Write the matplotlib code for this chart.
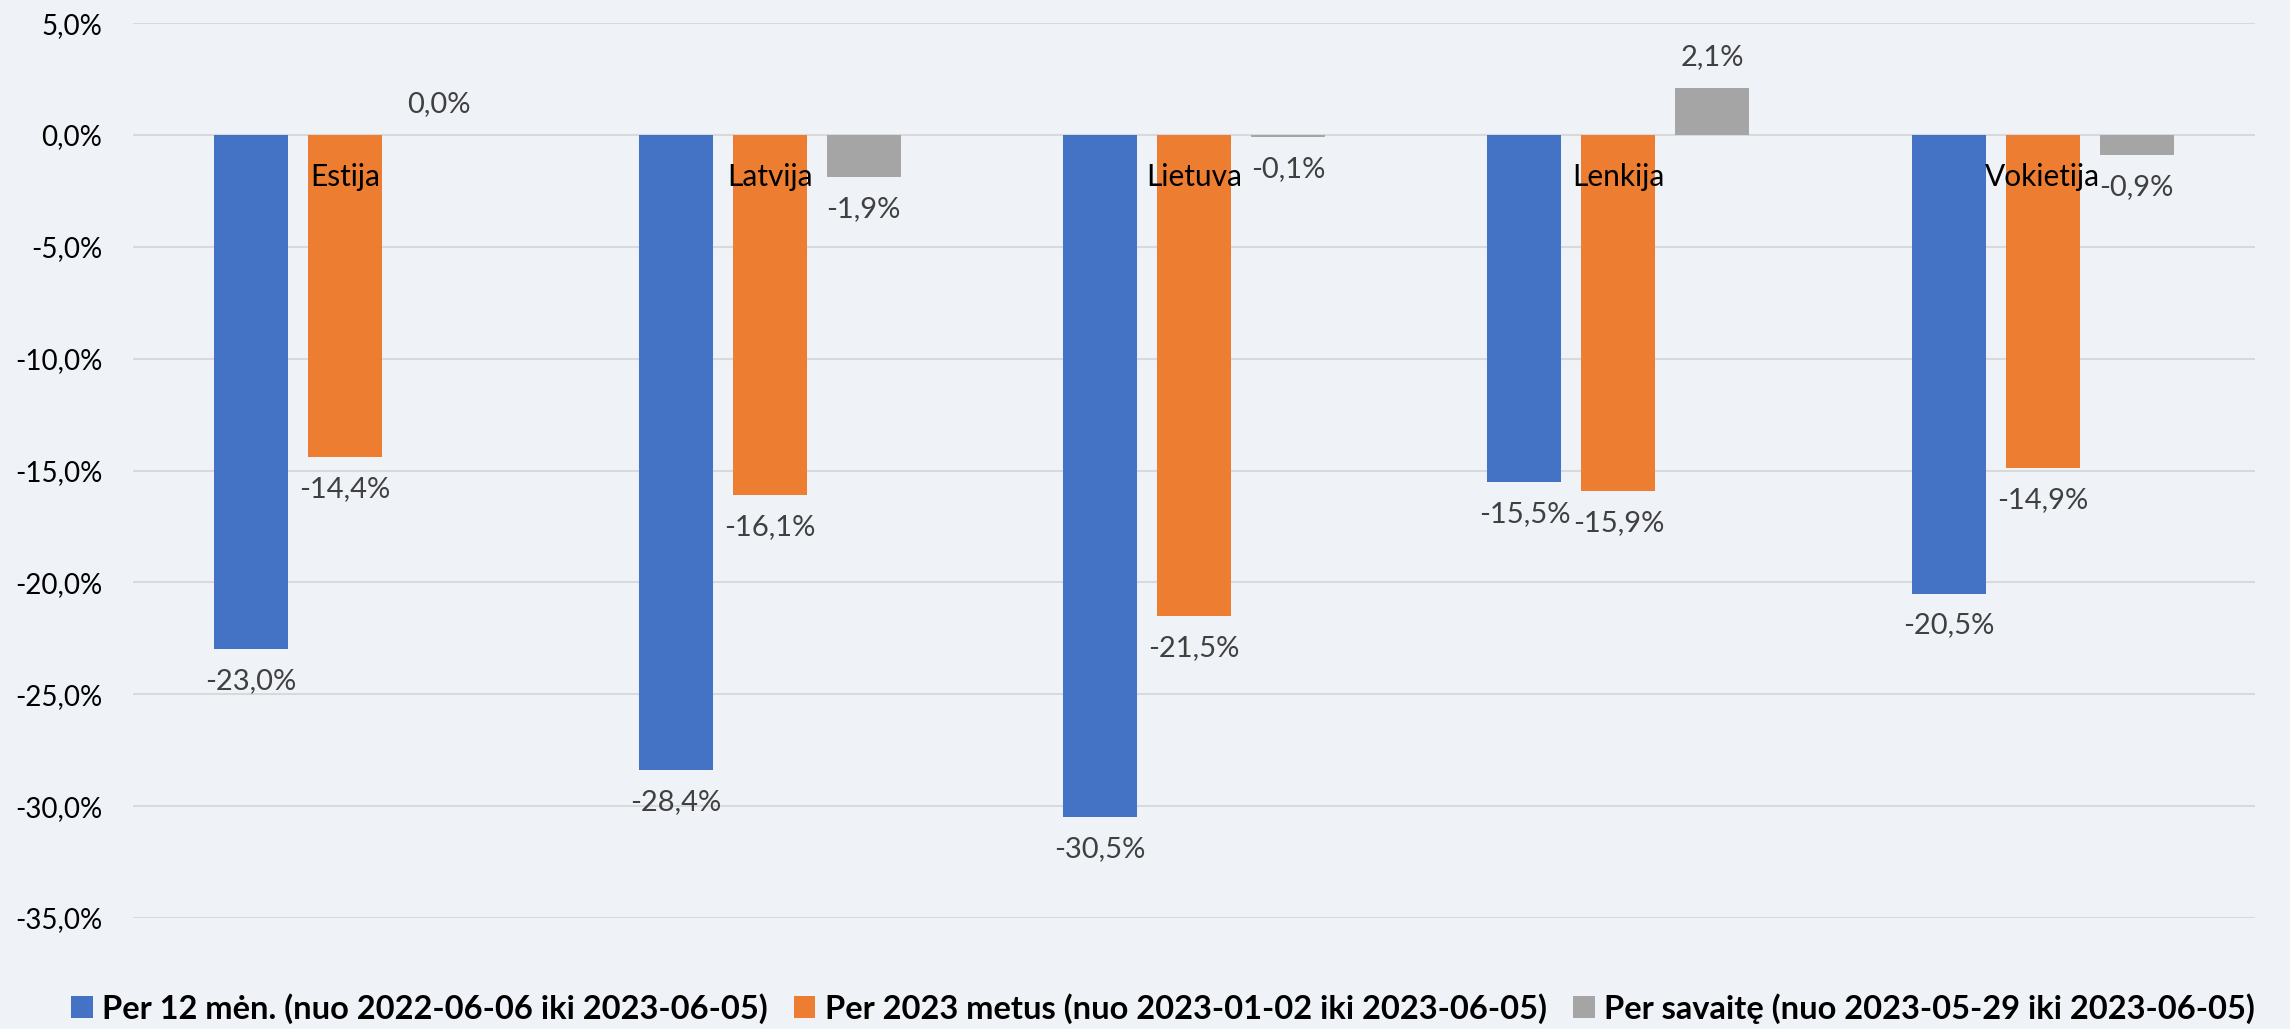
import matplotlib.pyplot as plt
import numpy as np

# duomenys
countries = ['Estija', 'Latvija', 'Lietuva', 'Lenkija', 'Vokietija']
per_12_men = [-23.0, -28.4, -30.5, -15.5, -20.5]
per_2023 = [-14.4, -16.1, -21.5, -15.9, -14.9]
per_savaite = [0.0, -1.9, -0.1, 2.1, -0.9]
series_names = ['Per 12 mėn. (nuo 2022-06-06 iki 2023-06-05)',
                'Per 2023 metus (nuo 2023-01-02 iki 2023-06-05)',
                'Per savaitę (nuo 2023-05-29 iki 2023-06-05)']
y_ticks = [5, 0, -5, -10, -15, -20, -25, -30, -35]

colors = ['#4472C4', '#ED7D31', '#A5A5A5']
bg = '#EFF3F7'

plt.rcParams['font.family'] = ['Lato', 'DejaVu Sans']


def pct(v):
    return '{:.1f}%'.format(v).replace('.', ',')


fig = plt.figure(figsize=(22.9, 10.29), dpi=100, facecolor=bg)
ax = fig.add_axes([0.0581, 0.1079, 0.9266, 0.8697])
ax.set_facecolor(bg)

x = np.arange(len(countries))
step = 0.2215
width = 0.174
for k, (vals, name) in enumerate(zip([per_12_men, per_2023, per_savaite], series_names)):
    xs = x + (k - 1) * step
    ax.bar(xs, vals, width=width, color=colors[k], label=name, zorder=2)
    for xi, v in zip(xs, vals):
        off = 22 if v >= 0 else -23
        ax.annotate(pct(v), xy=(xi, v), xytext=(0, off), textcoords='offset points',
                    ha='center', va='center', fontsize=21, color='#404040', zorder=4)

# kategoriju pavadinimai prie nulio linijos
for xi, c in zip(x, countries):
    ax.annotate(c, xy=(xi, 0), xytext=(0, -30), textcoords='offset points',
                ha='center', va='center', fontsize=21.5, color='black', zorder=5)

ax.set_xlim(-0.5, len(countries) - 0.5)
ax.set_ylim(-35, 5)
ax.set_yticks(y_ticks)
ax.set_yticklabels([pct(t) for t in y_ticks], fontsize=20)
ax.set_xticks([])
ax.tick_params(axis='y', length=0, pad=22)
ax.grid(axis='y', color='#D9D9D9', linewidth=1.5, zorder=0)
ax.set_axisbelow(True)
for s in ax.spines.values():
    s.set_visible(False)

leg = fig.legend(loc='center', bbox_to_anchor=(0.508, 0.02), ncol=3, frameon=False,
                 handlelength=0.65, handleheight=0.65, handletextpad=0.3,
                 columnspacing=0.8, prop={'size': 23.5, 'weight': 'bold'})

plt.savefig('out.png', dpi=100, facecolor=bg)
plt.close()
